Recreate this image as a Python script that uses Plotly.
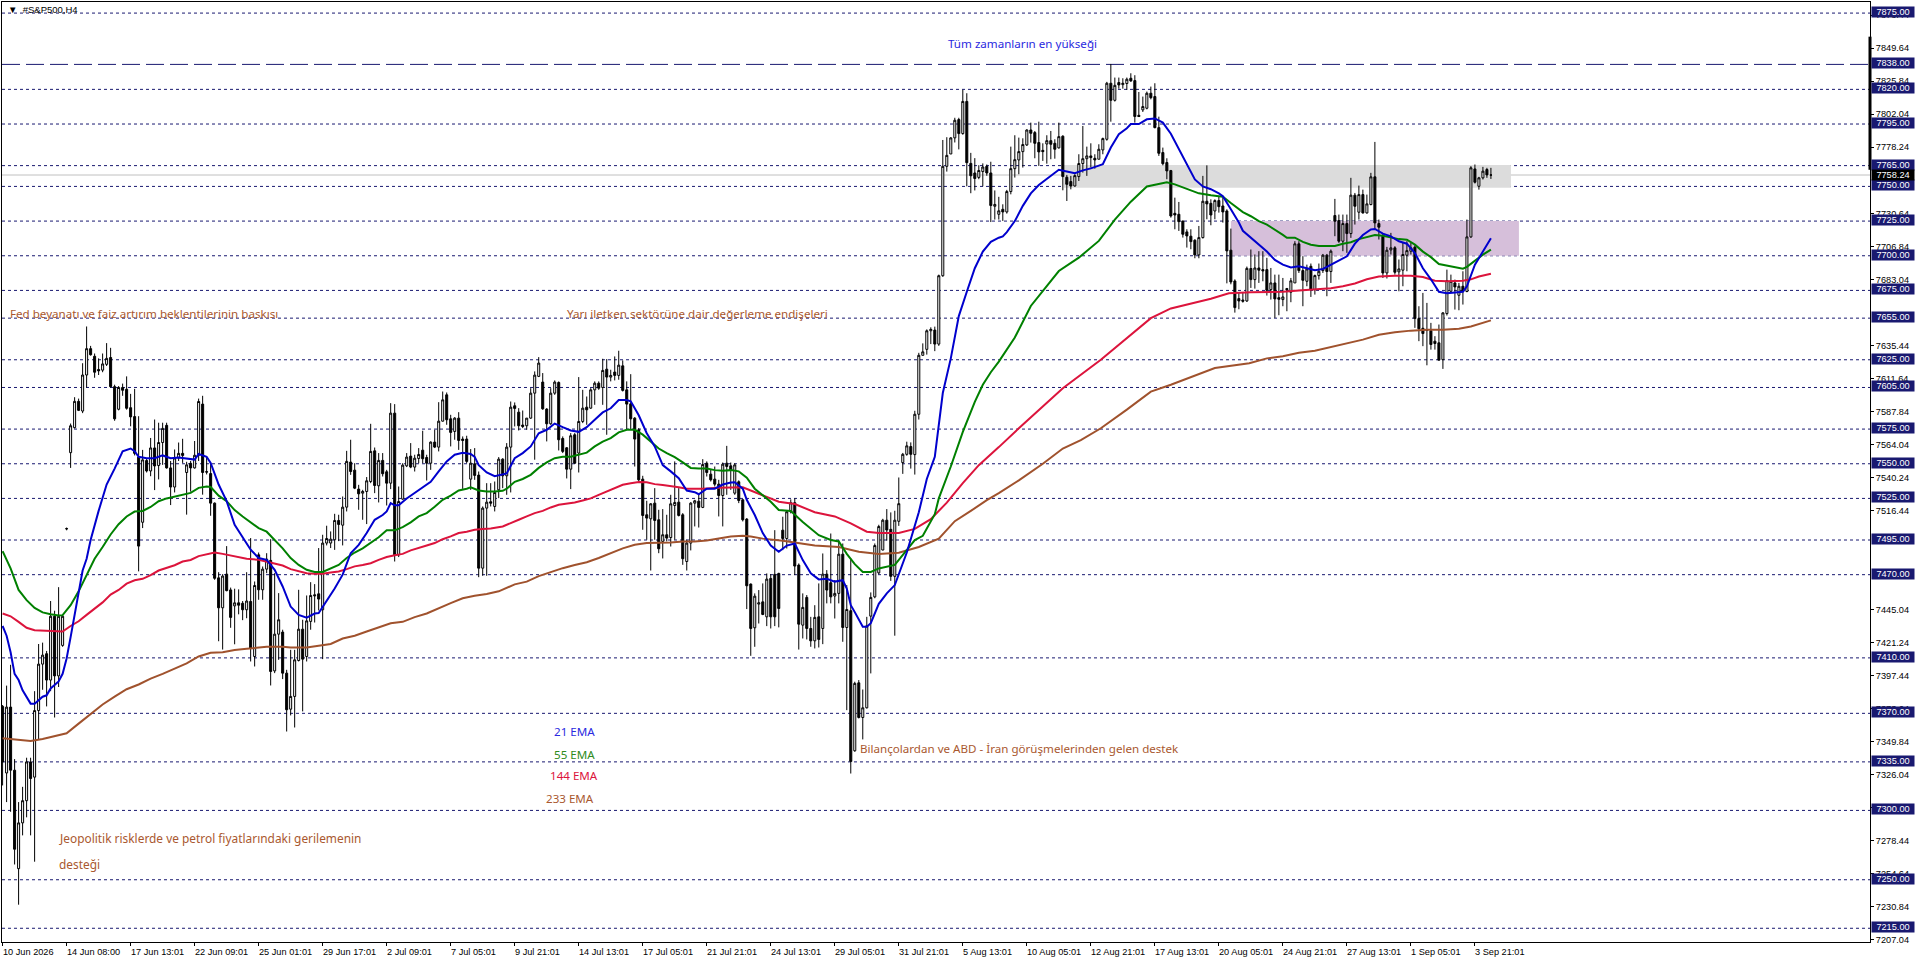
import plotly.graph_objects as go

opens = [
7375,7327,7374.5,7329,7258,7291,7307,7335,7324,7372,
7405.5,7413,7394,7440,7397,7419,7503,7558,7576,7595,
7588,7614,7633,7627.5,7618,7617.5,7621.7,7626.6,7605.6,7589.3,
7605,7603.7,7590.4,7584,7554.8,7507.8,7552.3,7544.8,7561.4,7548.7,
7565.3,7577.7,7547,7533.2,7554.2,7557.5,7543.7,7550.3,7547,7556.1,
7593,7544.3,7542.9,7521.6,7467.7,7446.1,7470.4,7459,7447.5,7449.7,
7449.4,7444.7,7450.7,7411,7484.3,7459.1,7474,7480.3,7400.6,7427.1,
7428.6,7399,7373,7382.2,7408.1,7430.7,7411,7436.3,7455.5,7456.2,
7444.7,7492.8,7492.8,7495.2,7509.1,7505.7,7518.7,7551.2,7545.4,7531.7,
7528.8,7530,7537.2,7559.3,7534.1,7552.4,7544.2,7536,7586.5,7484.3,
7524.5,7548.5,7555.5,7547.6,7553.8,7559.8,7554.5,7550.4,7565.6,7562,
7580.7,7599.7,7582.4,7573.3,7582.9,7567.8,7567.8,7538.9,7550,7541.8,
7474.7,7518,7522.6,7519.2,7531.2,7553.3,7541.3,7562,7591.8,7587.2,
7577.9,7577.4,7582.9,7600.9,7613,7608.9,7589.4,7578.8,7600.9,7608.6,
7568.2,7561.5,7546.1,7570.9,7557.7,7580.5,7590.8,7590.1,7603.3,7608.1,
7605,7618.2,7612.5,7616.1,7613.7,7620.6,7603.3,7593.2,7582.9,7574.5,
7538.9,7513.2,7510.3,7521.6,7509.6,7494,7498.8,7496.8,7519.9,7522.3,
7513.2,7479.5,7492.8,7521.6,7523,7518.5,7550.4,7542.5,7538.9,7535.3,
7527.1,7550.4,7548.5,7528.8,7537,7524,7510.1,7463.2,7431.7,7448.8,
7450.4,7439.6,7467.3,7470.2,7470.9,7502.1,7496.1,7515.4,7521.9,7476.9,
7433.6,7453.6,7431.2,7422.3,7439.6,7431.2,7470.4,7464.2,7454.6,7456.5,
7484.8,7431.9,7444,7343,7392,7367,7374,7440.1,7454,7471.3,
7487.8,7509.3,7502.7,7468.8,7508.5,7550.8,7556.8,7562.4,7556.6,7585.7,
7628.2,7632.5,7645.9,7646.4,7636.3,7685.6,7764.5,7773.4,7785,7798.2,
7788.1,7811.3,7766.6,7759.7,7756.5,7760.7,7764.5,7759.7,7735.7,7729.9,
7733.5,7731.6,7746.3,7762.8,7769.1,7775.1,7779.9,7790.7,7788.8,7781.6,
7776,7780.6,7783,7781.1,7777.8,7786.2,7756.6,7753.5,7750.3,7757.1,
7766.5,7770,7772,7770.3,7769.6,7776.3,7784,7824.4,7812.1,7824.9,
7823.4,7824.2,7828,7826.3,7801.3,7805.2,7806.4,7817.2,7814.8,7792.4,
7774.4,7767.2,7761.4,7730.6,7729.9,7725.1,7717.2,7714.1,7711.2,7700.6,
7713.1,7739.3,7737.8,7732.3,7739.8,7735.9,7732.3,7704,7681.8,7669.1,
7668.1,7667.4,7690.8,7682.8,7691.2,7690,7690,7675.6,7680.4,7669.8,
7668.4,7676.3,7673.7,7680.4,7708.6,7689.3,7681.6,7692.4,7675.6,7685.7,
7689.3,7700.4,7688.6,7729,7725.4,7710.5,7723.2,7716,7743.7,7731.4,
7744.1,7730.9,7736.9,7756.9,7723.2,7714.1,7687.6,7704.2,7705.7,7688.4,
7689.6,7700.4,7703.3,7706.2,7654.7,7647.7,7646.8,7646,7638.4,7637.2,
7625.1,7658.3,7674.4,7680.4,7671.5,7678,7674.2,7713.6,7762.6,7750.1,
7756.2,7762.2,7758.2]

highs = [
7376,7390,7405,7337,7306,7317,7338,7338,7386,7420,
7421,7415,7451,7444,7461,7441,7504,7579,7598,7597,
7622.5,7649,7635,7629.5,7626,7629.5,7637,7633.6,7607,7606,
7607.8,7613,7600.4,7604,7584.3,7560,7553.4,7568.6,7581.9,7579.6,
7579.6,7579.6,7552,7560.3,7565.3,7568,7551.4,7552,7566.4,7597,
7599,7554.8,7549.8,7522.1,7471.8,7470.4,7490.6,7460.7,7459.9,7459.4,
7451,7471.8,7496.4,7465.1,7486,7475.9,7485.5,7495.6,7471.1,7456.7,
7430.3,7401.4,7415.8,7415.8,7459.1,7437.5,7455,7464.6,7463.2,7489.2,
7498.8,7505.3,7501.2,7513.9,7513.2,7526.4,7559.3,7567.3,7550.4,7534.8,
7531.2,7540.4,7578.8,7561.7,7557.7,7557.7,7545.6,7593.7,7593,7533.6,
7550.4,7557.7,7564.9,7556.5,7561.3,7573.8,7556.5,7566.1,7574.5,7594.4,
7602.1,7601.4,7585.3,7583.6,7587.2,7569.7,7570.2,7560.6,7561.3,7544.4,
7519.2,7536,7536,7537.2,7554.8,7554,7564.9,7594.9,7594.2,7590.1,
7588.4,7583,7604.5,7616.6,7626.9,7615.4,7590.1,7604.5,7610.1,7609.4,
7569.7,7562,7572.1,7572.1,7612.5,7603.3,7598.5,7604.5,7609.4,7609.4,
7625.7,7625.5,7617.8,7627.4,7631.5,7624.5,7609.4,7614.6,7583.6,7575.7,
7541.3,7523.3,7521.6,7532.4,7516.8,7517.3,7513.2,7527.6,7551.7,7532.4,
7514.4,7495.2,7522.3,7524,7528.3,7553.3,7551.7,7545.6,7548,7538.4,
7550.9,7562.9,7550.9,7550.4,7538,7524.5,7510.8,7463.7,7456.5,7458.9,
7463.7,7470.9,7470.4,7502.1,7471.4,7511.8,7516.6,7524.3,7525,7478.1,
7456.5,7455.3,7439.6,7448,7463.7,7485.3,7473.3,7499.7,7466.1,7494.9,
7492.5,7462.5,7481.7,7392.8,7394,7387.2,7439.6,7457.2,7492.5,7506,
7510.3,7517.3,7514.9,7516.1,7540.1,7557.8,7565.9,7565.4,7588.2,7630,
7636.8,7646.9,7648.4,7648.9,7686.4,7783.5,7785.5,7785.5,7799.5,7799.5,
7819.7,7817.2,7774.2,7770.4,7765.3,7766.6,7765.8,7767.8,7747.1,7742.5,
7737.1,7747.5,7778.7,7786.9,7785.2,7784.7,7791.2,7796,7790,7796.7,
7781.1,7786.9,7790,7784,7796,7786.9,7758.3,7757.6,7758.8,7773.2,
7793.6,7778.7,7781.1,7773.2,7780.4,7785.2,7825.4,7838.3,7828.5,7828.5,
7828,7828.5,7831.6,7830.2,7818.1,7814.8,7818.4,7822,7824.4,7800.3,
7778,7770.3,7761.9,7741.9,7738.8,7725.1,7719.1,7719.1,7711.9,7721.5,
7757.6,7765.2,7740.7,7740.7,7743.1,7741.9,7733.5,7719.6,7683,7673.4,
7673.4,7692.2,7704.5,7700.9,7703.3,7703.3,7698.5,7691.2,7686.4,7686.4,
7684,7676.8,7684,7710.5,7710.5,7699.7,7693.6,7694.4,7686.4,7694.4,
7701.3,7701.3,7704.5,7741,7729.7,7729.7,7729.7,7756.2,7745.3,7750.6,
7747.7,7744.1,7759.8,7782.1,7726.1,7715.8,7706.4,7716.5,7706.9,7697.3,
7709.3,7710.5,7709.3,7707.4,7663.6,7673.2,7666,7651.6,7642,7650.4,
7659.3,7690,7686.4,7682.8,7680.4,7688.8,7726.1,7764.6,7765.8,7756.9,
7764.1,7763.4,7763.4]

lows = [
7318,7306,7299,7261,7232,7282,7295,7282,7263,7351.5,
7387,7375,7386,7367,7389,7418,7502,7547,7575.5,7588,
7586.5,7605,7628,7612,7614,7616,7620.5,7605,7581,7588.5,
7599,7589,7577,7556,7472.4,7503.6,7543.7,7541,7531,7538.7,
7549.2,7546.5,7520.2,7529.3,7552,7550.6,7513.3,7529.9,7546.5,7552,
7527.7,7542.3,7512.5,7466.3,7422,7416,7458,7431.7,7419.8,7441.4,
7437.2,7438.6,7407.4,7403.8,7451.9,7451.9,7471.1,7390.1,7399,7408.6,
7394.7,7356.9,7368.5,7359.8,7407.4,7371.4,7407.4,7430.3,7435.5,7444.2,
7409.1,7491.1,7489.2,7487.9,7494.2,7491.1,7515.6,7542,7531.7,7516.8,
7509.6,7506.5,7536,7528.8,7522.1,7540.8,7519.9,7531.7,7479.5,7482.7,
7524,7547.6,7546.8,7544.4,7550.4,7550.4,7537.9,7545.6,7561.3,7558.9,
7580.5,7578.1,7562.5,7567.3,7560,7531.9,7550.4,7531.2,7538.4,7468.2,
7469.2,7469.2,7519.2,7515.6,7525.2,7532.4,7527.6,7529.3,7576.9,7574,
7575.7,7574.5,7582.4,7552.9,7612.5,7588.9,7566.1,7578.1,7599.7,7559.6,
7557.7,7539.4,7531.7,7550,7543.7,7579.3,7578.1,7589.6,7592.5,7603.3,
7592.5,7570.9,7609.4,7610.1,7610.6,7602.1,7574.5,7574.5,7548,7537.2,
7502.4,7495.2,7473,7495.2,7485.5,7481.7,7494,7490.3,7495.2,7512,
7477.1,7473,7487.5,7504.8,7504,7518,7540.8,7537.2,7533.6,7512,
7504.8,7527.6,7531.2,7527.6,7521.6,7508.4,7445.2,7411.5,7418,7434.8,
7440.8,7432.9,7431.2,7432.9,7432,7487.7,7488.9,7514.2,7469.7,7416,
7424,7423.3,7418,7416.8,7417.5,7419.9,7449.3,7449.3,7438.4,7449.3,
7421.6,7372.3,7326.6,7342.3,7366.3,7351.2,7373.5,7398.8,7453,7470.3,
7487.6,7494.6,7465.5,7426,7505.2,7542.7,7555.8,7546.5,7542.2,7581.9,
7628,7628.7,7636.3,7631.2,7635,7684.8,7760.7,7773.4,7781.7,7776.7,
7787.3,7750.1,7745.1,7747.1,7755.2,7750.1,7757.7,7724.3,7726.1,7726.1,
7725.1,7730.4,7744.3,7756.4,7758.8,7763.6,7779.2,7781.6,7770.3,7764.8,
7768.4,7766.4,7769.6,7770,7777.3,7747.2,7739.5,7747.9,7749.9,7753.9,
7760,7757.6,7763.6,7762.8,7769.6,7773.2,7783,7796.7,7811.2,7820.5,
7820.5,7819.6,7825.4,7796,7800.2,7803.7,7805.6,7812.8,7791.9,7772,
7765.2,7755.2,7727.5,7719.1,7717.9,7713.1,7705.9,7704.7,7698.2,7698.2,
7712.4,7726.3,7722,7726.3,7731.1,7723.9,7680.1,7679.4,7659,7661.4,
7666.2,7666.7,7676.8,7676.3,7680.4,7681.6,7671.3,7668.4,7655.2,7657.1,
7663.6,7660,7666.5,7680.4,7687.6,7663.6,7678,7670.3,7672,7682.8,
7687.6,7670.8,7680.4,7714.1,7709.3,7703.3,7702.1,7712.9,7722.5,7726.1,
7730.4,7730.4,7736.4,7718.9,7711.7,7684,7683.6,7700.9,7686.4,7674.4,
7678,7688.8,7700.9,7648,7638.4,7634.8,7621,7632.3,7632.3,7624.7,
7618.4,7656.9,7673.7,7661.2,7660.7,7664.8,7673.7,7712.9,7752.1,7747.7,
7755,7756.2,7755.4]

closes = [
7335,7374.5,7329,7272,7291,7307,7335,7323,7372,7405.5,
7412,7394,7440,7397,7440,7440,7503.2,7577.4,7595,7588.5,
7614,7633,7628.6,7616,7617,7622,7626,7605.6,7582.4,7605,
7603,7590,7583.8,7557.5,7490.6,7552.8,7544.8,7561.4,7548.4,7565.3,
7575.5,7547,7533.2,7554.2,7557.5,7556,7549.2,7547,7556.1,7594.9,
7543.7,7544,7521.6,7467.4,7446.1,7469,7458.5,7439.2,7449.7,7448,
7444.7,7451,7417,7462.2,7459.1,7474,7481.2,7400.2,7427.1,7437.5,
7399,7372.6,7382.2,7408.6,7430.7,7409.1,7436.7,7455,7454.8,7452.4,
7492.8,7496.1,7495.6,7509.1,7506.2,7518.7,7551.7,7544.4,7532.4,7528.3,
7530,7537.7,7558.9,7534.3,7552.4,7542.8,7536,7586.5,7484.3,7522.8,
7549,7554.8,7547.6,7554,7556.7,7553.6,7550.4,7565.6,7562,7580.7,
7596.1,7581.7,7572.6,7582.9,7566.8,7566.8,7551.7,7550.4,7541.6,7474.7,
7518,7522.3,7521.6,7529.3,7553.3,7541.3,7562,7590.8,7589.9,7577.4,
7576.9,7582.9,7600.9,7613.9,7622.6,7589.6,7578.8,7600.9,7608.9,7567.3,
7558.9,7546.1,7570.2,7550.4,7580.5,7590.1,7588.9,7603.3,7608.1,7604.5,
7617.3,7612.5,7613.7,7613.7,7621.1,7602.9,7593,7582.4,7567.8,7538.4,
7512.7,7510.8,7521.1,7509.1,7488.7,7498.8,7496.4,7521.1,7522.1,7512.7,
7481.5,7492.8,7521.6,7523.3,7518.5,7549.5,7543.7,7538.4,7535.3,7527.1,
7549.7,7548,7545.2,7549.2,7523.5,7509.6,7462,7431.2,7454.5,7449.7,
7441.3,7466.8,7439.6,7439.6,7445.6,7496.1,7515.4,7521.9,7476.2,7434.3,
7446.4,7431.2,7422.3,7439.2,7423.3,7470.4,7458.9,7454,7456.5,7484.8,
7431.9,7444.9,7335.3,7391.6,7367,7374,7433.1,7453.6,7491,7504.7,
7509.3,7502.2,7468.8,7509.3,7521.2,7556.8,7562.9,7556.8,7585.7,7628.2,
7630.7,7645.9,7646.9,7636.3,7685.6,7764.5,7772.4,7785,7797.7,7788.1,
7811.3,7767.1,7757.7,7755.7,7761.5,7764,7759.7,7736.2,7737,7732.4,
7731.6,7746.3,7762.8,7769.3,7775.1,7780.2,7790.7,7788.3,7781.1,7774.9,
7775.1,7783,7780.4,7776.8,7785.9,7757.1,7751.5,7750.3,7757.8,7766.5,
7770,7772,7770.8,7769.1,7776.8,7784.5,7824.4,7812.1,7822.9,7823.2,
7824.4,7827.3,7826.1,7800.4,7800.4,7807.6,7817.2,7814,7792.4,7773.9,
7766.4,7761.2,7728.7,7729.4,7724.6,7715.5,7714.3,7710.2,7700.6,7713.1,
7739.3,7737.4,7729.4,7739.8,7735.4,7731.6,7703.5,7681.1,7662.6,7667.4,
7667.2,7690.9,7682.8,7691.2,7689.6,7689.1,7675.1,7680.4,7668.9,7668.6,
7670.3,7675.6,7681.9,7708.6,7689.3,7682.3,7690.5,7675.6,7685.7,7688.8,
7700.4,7688.6,7703.3,7724.9,7710.5,7723.2,7716,7743.7,7735.7,7744.1,
7730.9,7737.4,7756.9,7723.7,7720.6,7687.6,7704,7705.7,7688.1,7690.5,
7700.9,7703.7,7705.7,7654.7,7647.3,7643.9,7646.3,7636,7636.7,7624.7,
7658.8,7682.1,7681.6,7677.5,7678,7674.4,7713.6,7763.4,7753,7756.2,
7761,7758.3,7758.24]

ema21_idx = [0,1,2,3,4,5,7,8,10,11,12,14,15,16,17,18,19,20,21,22,24,26,28,30,32,33,34,36,38,40,42,44,48,49,51,52,54,56,58,60,62,
64,66,68,70,72,74,76,78,79,81,83,85,87,89,91,93,95,96,97,98,99,101,103,105,107,109,111,113,115,117,118,119,121,123,
125,126,128,130,132,134,136,138,140,142,144,146,148,150,152,154,156,157,159,161,163,165,167,169,171,173,174,176,178,180,182,183,185,186,
188,190,192,194,196,198,200,202,204,206,208,210,211,212,213,215,216,217,219,221,223,224,226,229,231,233,235,237,239,241,243,245,247,249,
250,251,253,255,257,259,261,263,264,266,268,270,272,274,275,277,279,281,282,284,286,288,290,292,294,296,298,300,302,304,305,307,309,310,
312,314,316,318,320,322,324,326,328,330,332,334,336,338,340,342,343,345,347,349,351,353,355,357,359,361,363,365,366,368,370,372]
ema21 = [7433,7426,7414,7398.5,7394,7386.6,7377,7377,7382,7383,7388,7393,7398.5,7409.6,7425,7441,7458,7473,7481.5,7495,7516,7535,7546.5,7559,7561,7559,7555,7554,7554,7556,7554,7554.5,7553,7557,7555,7550.6,7535,7523,7506,7496.7,7488,
7482,7480.7,7473.5,7461.5,7447,7441,7439,7442,7442.3,7450.7,7460,7470,7485.5,7491.5,7500,7509.6,7513,7515.6,7521.6,7520,7520,7525,7529,7533.6,7537,7544.5,7551.7,7556.5,7558,7557,7555,7549,7543.7,7541,
7542,7543,7554,7557.7,7562.5,7572,7574.5,7579,7576.4,7574,7573,7576.4,7581.7,7587,7590,7596,7596,7595,7585,7572,7562.5,7549,7544.5,7539.6,7530.7,7529.5,7528,7532,7532,7535,7536.5,7536.7,7532,7524,
7513,7500,7491,7486.5,7491,7492.5,7480.5,7471,7466.6,7467,7465,7466,7460,7448,7443,7432.4,7432.4,7435,7449,7456.5,7462.5,7470.6,7486,7515,7539,7555,7601,7626,7656.5,7674,7691,7703,7710,7713,
7714,7717,7725,7736,7745,7751,7755.6,7760,7762,7760.7,7759.5,7761.6,7763,7765,7766,7778,7787.6,7792,7795,7795,7798.4,7799,7796,7788,7777,7765,7755,7750,7748,7745,7743,7733.5,7724,7718,
7713,7708,7703,7697,7693.6,7691.6,7692.4,7691,7689.5,7690.5,7693.6,7696.7,7699.6,7708.7,7715,7719,7719.3,7716,7714,7710.4,7708.7,7702,7691,7683,7674,7673,7673.6,7674,7678,7693.6,7703,7712.6]

ema55_idx = [0,2,4,6,8,10,12,14,15,17,19,21,23,25,27,29,31,33,35,37,39,41,43,45,47,49,51,52,54,56,58,60,62,
64,66,68,70,72,74,76,78,80,82,84,86,88,90,92,94,96,98,100,102,104,106,108,110,112,114,116,117,119,121,123,
125,126,128,130,132,134,136,138,140,142,144,146,148,150,152,154,156,158,160,162,164,166,168,170,172,174,176,178,180,182,184,186,
188,192,194,197,200,204,207,209,211,213,215,217,219,223,225,228,230,233,234,237,240,243,245,247,249,
253,257,264,269,274,278,282,286,291,293,296,299,302,305,307,310,312,
314,316,318,320,321,323,325,327,329,331,333,335,337,339,341,343,345,347,349,351,353,355,357,359,361,363,365,366,368,370,372]
ema55 = [7487,7474.6,7459,7451.6,7446,7442.8,7441.4,7440.5,7440.8,7448,7458,7470,7481.5,7490,7499,7506.4,7512,7515.5,7516,7518.8,7523,7525,7526.5,7528,7529,7532.6,7533.5,7533.2,7527,7523,7516.6,7512,7507.7,
7503.6,7501,7495,7489,7482,7477,7473.5,7472,7472,7474.7,7477,7482,7486,7489,7493,7497,7502,7502,7504.3,7507.7,7512,7514.4,7519,7524,7527,7530.7,7532,7533,7530.7,7530,7530,
7530.5,7532,7537,7539,7542,7547,7551,7554,7555,7555,7556.5,7558,7562.5,7566,7568.5,7572.6,7574.5,7574.5,7571,7566,7561,7557.7,7554.8,7551,7547,7546.6,7546.6,7545.4,7545,7545.4,7544.5,7540,
7532,7522.6,7516.6,7516,7508,7498.5,7495,7494,7485,7477.6,7472,7472,7474.5,7477,7484,7495,7498,7513.6,7525,7548,7573,7594.6,7607,7616,7623.7,
7641,7663.8,7689,7698.6,7710.7,7726,7739,7750,7753,7751.5,7748,7745,7743.6,7742.6,7738,7731.5,7728.5,
7725,7722.5,7719,7715,7713,7713,7710,7708,7707,7707,7707,7708.7,7709.7,7712,7713.5,7715,7714.5,7713,7712,7711.6,7708,7703,7699,7694,7693,7691.6,7690.7,7692,7696.7,7700.8,7704.4]

ema144_idx = [0,2,4,6,8,10,12,14,15,17,19,21,23,25,27,29,31,33,35,37,39,41,43,45,47,49,51,53,55,57,59,61,
64,66,68,70,72,74,76,78,80,82,84,86,88,90,92,94,96,98,100,102,104,106,108,110,112,114,116,118,120,122,
125,127,129,131,133,135,137,139,141,143,145,147,149,151,153,155,157,159,161,163,165,167,169,171,175,179,183,185,187,
190,194,198,203,208,212,216,219,224,228,232,236,240,244,249,254,265,274.5,287,292,302,306.5,312,
316,320,324,328,332,335,338,341,344,348,352,355,358,361,365,367,369,372]
ema144 = [7442,7440,7436,7431.7,7430,7429.8,7429.5,7429,7429,7433,7436.4,7441,7445.5,7450,7455.7,7459,7463.5,7466,7467,7469.6,7473,7475,7476.8,7479.5,7480.6,7483.4,7484.8,7486,7485,7484,7483,7481.5,
7480.7,7479.5,7478.3,7476.6,7474,7472.3,7471,7470.6,7470.6,7471.6,7472.3,7474,7476,7477,7478.3,7480.7,7482.7,7484,7485,7487.5,7489,7491,7492.8,7495.6,7497.6,7500,7501,7502.4,7503,7503.3,
7504.8,7507,7509.6,7512,7514.4,7516,7518.5,7520.4,7521,7522,7523.5,7525,7527.6,7530,7532.4,7534.8,7536,7536.8,7536.6,7535.3,7534.6,7534,7533,7532,7532,7532.7,7533,7533,7530.7,
7527.4,7522.6,7521,7515,7512,7507,7501,7500,7500,7503,7510,7522,7536,7549,7562,7575.6,7604.5,7625,7655,7662,7669,7673,
7673.6,7673.6,7674,7675,7675.6,7676.5,7678,7680,7683,7685,7685.6,7685.6,7684.7,7682,7681.6,7682,7683,7685,7687]

ema233_idx = [0,3,7,10,13,16,19,22,25,28,31,34,37,40,43,46,49,52,55,58,61,
66,70,72,76,79,82,85,88,91,94,97,100,103,106,109,112,115,118,121,124,
128,131,134,137,140,143,146,149,152,155,158,161,164,167,170,173,176,179,182,185,187,
190,195,203,209,214,219,224,229,234,238,242,246,249,254,260,265,269.5,274.5,281,287,292,303,311.6,
316,320,324,328,332,336,340,344,348,352,356,360,364,367,369,372]
ema233 = [7352,7351,7350,7351.5,7353.4,7355.6,7362.6,7369.5,7376.4,7382,7387.4,7390.8,7395,7398.5,7402,7406,7411,7413.7,7414,7415.7,7416.5,
7418,7418,7417.5,7417.5,7419,7420,7424,7426,7429,7432,7435,7436,7439.4,7442,7445.9,7449.5,7453,7454.8,7456,7458,
7463,7465,7469,7472,7474.7,7477,7479,7482,7485.5,7489,7491.6,7492.8,7493,7493.2,7494,7494,7494.7,7496,7497.6,7498,7497.6,
7496,7494.5,7491,7490,7486.5,7485,7485.8,7490,7496,7508.6,7516,7523.7,7528.8,7538,7550,7561,7567,7575.6,7589,7602,7607,7619,7622.5,
7626,7627.5,7630,7631.5,7634,7637,7639.5,7643,7644.8,7646,7646.7,7646.7,7647.4,7649,7650.8,7653.4]

levels = [7875,7838,7820,7795,7765,7750,7725,7700,7675,7655,7625,7605,7575,7550,7525,7495,7470,7410,7370,7335,7300,7250,7215]
price_ticks = [7873.44,7849.64,7825.84,7802.04,7778.24,7730.64,7706.84,7683.04,7635.44,7611.64,7587.84,7564.04,7540.24,7516.44,7445.04,7421.24,7397.44,7373.64,7349.84,7326.04,7302.24,7278.44,7254.64,7230.84,7207.04]
date_labels = ["10 Jun 2026","14 Jun 08:00","17 Jun 13:01","22 Jun 09:01","25 Jun 01:01","29 Jun 17:01","2 Jul 09:01","7 Jul 05:01","9 Jul 21:01","14 Jul 13:01","17 Jul 05:01","21 Jul 21:01","24 Jul 13:01","29 Jul 05:01","31 Jul 21:01","5 Aug 13:01","10 Aug 05:01","12 Aug 21:01","17 Aug 13:01","20 Aug 05:01","24 Aug 21:01","27 Aug 13:01","1 Sep 05:01","3 Sep 21:01"]
current_price = 7758.24

NAVY = "#191970"
AXFONT = "Liberation Sans"
TXFONT = "Noto Sans"
SIENNA = "#A9582F"

fig = go.Figure()
fig.add_trace(go.Candlestick(
    x=list(range(len(opens))), open=opens, high=highs, low=lows, close=closes,
    increasing=dict(fillcolor="white", line=dict(color="black", width=1)),
    decreasing=dict(fillcolor="black", line=dict(color="black", width=1)),
    whiskerwidth=0, showlegend=False, hoverinfo="skip"))
for name, xs, ys, col in [("233 EMA", ema233_idx, ema233, "#A0522D"),
                          ("144 EMA", ema144_idx, ema144, "#DC143C"),
                          ("55 EMA", ema55_idx, ema55, "#008000"),
                          ("21 EMA", ema21_idx, ema21, "#0000CD")]:
    fig.add_trace(go.Scatter(x=xs, y=ys, mode="lines", name=name, showlegend=False, hoverinfo="skip",
                             line=dict(color=col, width=2)))

shapes = [
    dict(type="rect", xref="x", yref="y", x0=265.25, x1=377, y0=7749, y1=7765.5, fillcolor="#DCDCDC", line_width=0, layer="below"),
    dict(type="rect", xref="x", yref="y", x0=307, x1=379, y0=7700, y1=7725, fillcolor="#D6BFDA", line_width=0, layer="below"),
    dict(type="line", xref="paper", yref="y", x0=0, x1=1, y0=current_price, y1=current_price, line=dict(color="#C0C0C0", width=1), layer="below"),
    dict(type="line", xref="paper", yref="y", x0=1, x1=1, y0=7762, y1=7858, line=dict(color="black", width=3)),
]
for lv in levels:
    dash = "18px,6px" if lv == 7838 else "3px,3px"
    shapes.append(dict(type="line", xref="paper", yref="y", x0=0, x1=1, y0=lv, y1=lv,
                       line=dict(color=NAVY, width=1, dash=dash), layer="below"))

ann = []
def label(x, y, text, color, size=11.6):
    ann.append(dict(x=x, y=y, xref="x", yref="y", text=text, showarrow=False, xanchor="left", yanchor="middle",
                    xshift=-3, font=dict(family=TXFONT, size=size, color=color)))
label(236.5, 7853, "Tüm zamanların en yükseği", "#2A2AE0")
label(2, 7658, "Fed beyanatı ve faiz artırım beklentilerinin baskısı", SIENNA)
label(141.4, 7658, "Yarı iletken sektörüne dair değerleme endişeleri", SIENNA)
label(138, 7356.8, "21 EMA", "#2A2AE0")
label(138, 7340, "55 EMA", "#2E8B20")
label(137, 7325, "144 EMA", "#DC143C")
label(136, 7308.5, "233 EMA", SIENNA)
label(14.25, 7280.3, "Jeopolitik risklerde ve petrol fiyatlarındaki gerilemenin", SIENNA, 11.9)
label(14.25, 7261, "desteği", SIENNA, 11.9)
label(214.5, 7345, "Bilançolardan ve ABD - İran görüşmelerinden gelen destek", SIENNA)

ann.append(dict(x=0, y=1, xref="paper", yref="paper", text="▼  #S&P500,H4", showarrow=False, xanchor="left", yanchor="top",
                xshift=4, yshift=0, font=dict(family=AXFONT, size=9.5, color="black")))

for lv in levels:
    ann.append(dict(x=1, y=lv, xref="paper", yref="y", text=f"{lv:.2f}", showarrow=False, xanchor="left", yanchor="middle",
                    xshift=1, yshift=1, width=42, height=10, align="center", bgcolor=NAVY, borderpad=0,
                    font=dict(family=AXFONT, size=9.2, color="white")))
ann.append(dict(x=1, y=current_price, xref="paper", yref="y", text=f"{current_price:.2f}", showarrow=False, xanchor="left",
                yanchor="middle", xshift=1, width=42, height=10, align="center", bgcolor="black", borderpad=0,
                font=dict(family=AXFONT, size=9.2, color="white")))

tick_idx = [16 * k for k in range(len(date_labels))]
for tx, t in zip(tick_idx, date_labels):
    ann.append(dict(x=tx, y=0, xref="x", yref="paper", text=t, showarrow=False, xanchor="left", yanchor="top",
                    xshift=-2, yshift=-3, font=dict(family=AXFONT, size=9.2, color="black")))

fig.update_layout(
    width=1916, height=963, autosize=False,
    margin=dict(l=2.4, r=46, t=2.3, b=21, pad=0),
    paper_bgcolor="white", plot_bgcolor="white",
    showlegend=False, hovermode=False, boxgap=0.28,
    shapes=shapes, annotations=ann,
    xaxis=dict(range=[-0.15, 466.75], tickmode="array", tickvals=tick_idx, ticktext=[""] * len(tick_idx),
               ticks="outside", ticklen=3, tickcolor="black", showgrid=False, zeroline=False,
               showline=True, linecolor="black", linewidth=1, mirror=True, rangeslider=dict(visible=False)),
    yaxis=dict(range=[7205.1, 7883], side="right", tickmode="array", tickvals=price_ticks,
               ticktext=[f"{p:.2f}" for p in price_ticks], ticks="outside", ticklen=3, tickcolor="black",
               tickfont=dict(family=AXFONT, size=9.2, color="black"), showgrid=False, zeroline=False,
               showline=True, linecolor="black", linewidth=1, mirror=True),
)
fig.write_html("out.html", config=dict(displayModeBar=False),
               post_script="document.body.style.margin='0';document.body.style.overflow='hidden';")
